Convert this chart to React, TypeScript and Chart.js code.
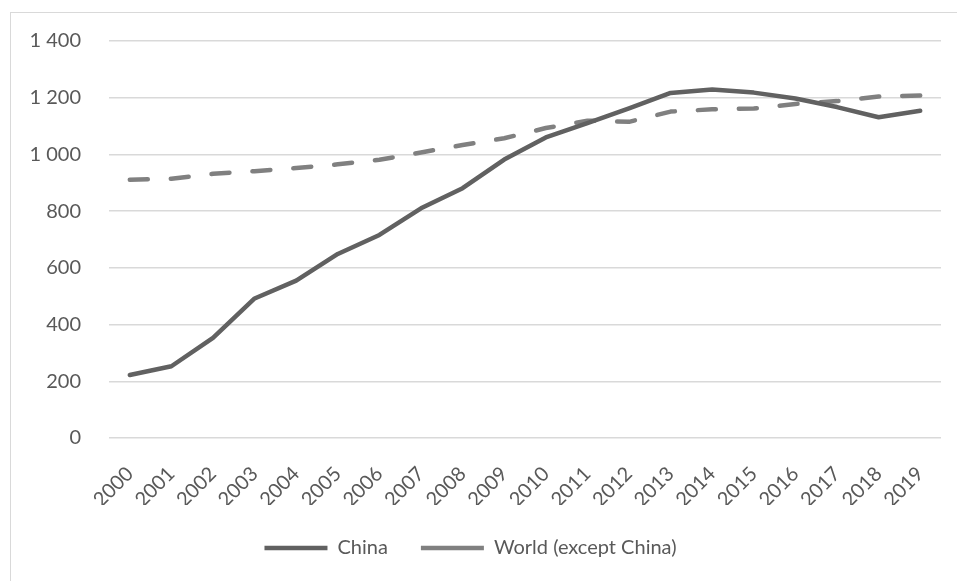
import React, { useEffect, useRef } from "react";
import { Chart, registerables } from "chart.js";

Chart.register(...registerables);

const years = ["2000","2001","2002","2003","2004","2005","2006","2007","2008","2009","2010","2011","2012","2013","2014","2015","2016","2017","2018","2019"];
const china = [222, 253, 353, 492, 555, 649, 716, 810, 881, 982, 1060, 1110, 1162, 1217, 1229, 1218, 1197, 1167, 1131, 1154];
const world = [911, 914, 932, 941, 952, 965, 981, 1007, 1033, 1057, 1093, 1119, 1115, 1151, 1159, 1162, 1178, 1188, 1204, 1208];
const seriesNames = ["China", "World (except China)"];
const yMin = 0;
const yMax = 1400;
const yStep = 200;

const FONT = "Lato, 'Open Sans', sans-serif";
const TEXT = "#595959";

export default function App() {
  const ref = useRef<HTMLCanvasElement | null>(null);
  useEffect(() => {
    document.body.style.overflow = "hidden";
    const canvas = ref.current!;
    const chart = new Chart(canvas, {
      type: "line",
      data: {
        labels: years,
        datasets: [
          {
            label: seriesNames[0],
            data: china,
            borderColor: "#616161",
            backgroundColor: "#616161",
            borderWidth: 4.5,
            borderCapStyle: "round",
            borderJoinStyle: "round",
            pointRadius: 0,
            pointHoverRadius: 0,
            tension: 0,
          },
          {
            label: seriesNames[1],
            data: world,
            borderColor: "#808080",
            backgroundColor: "#808080",
            borderWidth: 4.5,
            borderDash: [18, 23],
            borderCapStyle: "round",
            borderJoinStyle: "round",
            pointRadius: 0,
            pointHoverRadius: 0,
            tension: 0,
          },
        ],
      },
      options: {
        responsive: false,
        animation: false,
        devicePixelRatio: 1,
        layout: { padding: { left: 0, right: 16, top: 41, bottom: 13 } },
        plugins: {
          tooltip: { enabled: false },
          legend: {
            position: "bottom",
            labels: {
              usePointStyle: true,
              pointStyle: "line",
              pointStyleWidth: 63,
              boxHeight: 20,
              padding: 33,
              color: TEXT,
              font: { family: FONT, size: 20 },
            },
          },
        },
        scales: {
          x: {
            offset: true,
            grid: { display: false, drawTicks: false },
            border: { display: false },
            ticks: {
              minRotation: 45,
              maxRotation: 45,
              autoSkip: false,
              padding: 24,
              color: TEXT,
              font: { family: FONT, size: 20 },
            },
            afterFit: (s: any) => {
              s.height = 67;
              s.paddingLeft = 0;
              s.paddingRight = 0;
            },
          },
          y: {
            min: yMin,
            max: yMax,
            grid: { color: "#d9d9d9", lineWidth: 1.5, drawTicks: false },
            border: { display: false },
            ticks: {
              stepSize: yStep,
              padding: 28,
              color: TEXT,
              font: { family: FONT, size: 20 },
              callback: (v: any) => String(v).replace(/\B(?=(\d{3})+(?!\d))/g, " "),
            },
            afterFit: (s: any) => {
              s.width = 109;
            },
          },
        },
      },
    });
    return () => chart.destroy();
  }, []);
  return (
    <div style={{ position: "fixed", left: 0, top: 0, width: 957, height: 581, overflow: "hidden", background: "#fff" }}>
      <div
        style={{
          position: "absolute",
          left: 10,
          top: 12,
          width: 1200,
          height: 1200,
          border: "1px solid #d9d9d9",
        }}
      />
      <canvas ref={ref} width={957} height={581} style={{ position: "absolute", left: 0, top: 0 }} />
    </div>
  );
}
